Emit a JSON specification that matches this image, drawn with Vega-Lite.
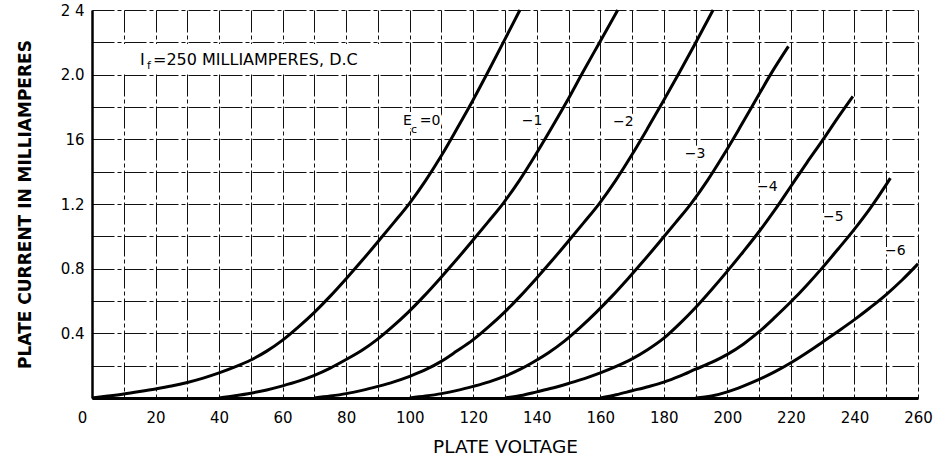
{
  "$schema": "https://vega.github.io/schema/vega-lite/v6.json",
  "width": 826,
  "height": 388,
  "autosize": {"type": "none"},
  "padding": {"left": 92, "top": 10, "right": 26, "bottom": 63},
  "background": "white",
  "config": {"view": {"stroke": null}, "font": "DejaVu Sans"},
  "datasets": {
    "box": [{"v": 1, "v2": 91.5, "i": 2.01, "i2": 2.19}],
    "curves": [
      {"ec": "0", "v": 0, "i": 0}, {"ec": "0", "v": 5, "i": 0.012}, {"ec": "0", "v": 10, "i": 0.025}, {"ec": "0", "v": 15, "i": 0.04}, {"ec": "0", "v": 20, "i": 0.056}, {"ec": "0", "v": 25, "i": 0.074}, {"ec": "0", "v": 30, "i": 0.096}, {"ec": "0", "v": 35, "i": 0.123}, {"ec": "0", "v": 40, "i": 0.155}, {"ec": "0", "v": 45, "i": 0.192}, {"ec": "0", "v": 50, "i": 0.235}, {"ec": "0", "v": 55, "i": 0.29}, {"ec": "0", "v": 60, "i": 0.358}, {"ec": "0", "v": 65, "i": 0.44}, {"ec": "0", "v": 70, "i": 0.53}, {"ec": "0", "v": 75, "i": 0.63}, {"ec": "0", "v": 80, "i": 0.738}, {"ec": "0", "v": 85, "i": 0.85}, {"ec": "0", "v": 90, "i": 0.967}, {"ec": "0", "v": 95, "i": 1.085}, {"ec": "0", "v": 100, "i": 1.206}, {"ec": "0", "v": 105, "i": 1.345}, {"ec": "0", "v": 110, "i": 1.5}, {"ec": "0", "v": 115, "i": 1.67}, {"ec": "0", "v": 120, "i": 1.845}, {"ec": "0", "v": 125, "i": 2.03}, {"ec": "0", "v": 130, "i": 2.22}, {"ec": "0", "v": 134.7, "i": 2.4},
      {"ec": "-1", "v": 40, "i": 0}, {"ec": "-1", "v": 45, "i": 0.014}, {"ec": "-1", "v": 50, "i": 0.03}, {"ec": "-1", "v": 55, "i": 0.05}, {"ec": "-1", "v": 60, "i": 0.075}, {"ec": "-1", "v": 65, "i": 0.104}, {"ec": "-1", "v": 70, "i": 0.14}, {"ec": "-1", "v": 75, "i": 0.185}, {"ec": "-1", "v": 80, "i": 0.238}, {"ec": "-1", "v": 85, "i": 0.295}, {"ec": "-1", "v": 89.5, "i": 0.358}, {"ec": "-1", "v": 94.5, "i": 0.44}, {"ec": "-1", "v": 99.5, "i": 0.53}, {"ec": "-1", "v": 104.5, "i": 0.63}, {"ec": "-1", "v": 109.5, "i": 0.738}, {"ec": "-1", "v": 114.5, "i": 0.85}, {"ec": "-1", "v": 119.5, "i": 0.967}, {"ec": "-1", "v": 124.5, "i": 1.085}, {"ec": "-1", "v": 129.5, "i": 1.206}, {"ec": "-1", "v": 134.5, "i": 1.345}, {"ec": "-1", "v": 139.5, "i": 1.5}, {"ec": "-1", "v": 144.5, "i": 1.665}, {"ec": "-1", "v": 149.5, "i": 1.835}, {"ec": "-1", "v": 154.5, "i": 2.015}, {"ec": "-1", "v": 159.5, "i": 2.19}, {"ec": "-1", "v": 165.5, "i": 2.4},
      {"ec": "-2", "v": 70, "i": 0}, {"ec": "-2", "v": 75, "i": 0.012}, {"ec": "-2", "v": 80, "i": 0.027}, {"ec": "-2", "v": 85, "i": 0.047}, {"ec": "-2", "v": 90, "i": 0.072}, {"ec": "-2", "v": 95, "i": 0.1}, {"ec": "-2", "v": 100, "i": 0.134}, {"ec": "-2", "v": 105, "i": 0.175}, {"ec": "-2", "v": 109.8, "i": 0.225}, {"ec": "-2", "v": 114.8, "i": 0.29}, {"ec": "-2", "v": 119.8, "i": 0.358}, {"ec": "-2", "v": 124.8, "i": 0.44}, {"ec": "-2", "v": 129.8, "i": 0.53}, {"ec": "-2", "v": 134.8, "i": 0.63}, {"ec": "-2", "v": 139.8, "i": 0.738}, {"ec": "-2", "v": 144.8, "i": 0.85}, {"ec": "-2", "v": 149.8, "i": 0.967}, {"ec": "-2", "v": 154.8, "i": 1.085}, {"ec": "-2", "v": 159.8, "i": 1.206}, {"ec": "-2", "v": 164.8, "i": 1.345}, {"ec": "-2", "v": 169.8, "i": 1.5}, {"ec": "-2", "v": 174.8, "i": 1.665}, {"ec": "-2", "v": 179.8, "i": 1.835}, {"ec": "-2", "v": 184.8, "i": 2.01}, {"ec": "-2", "v": 189.8, "i": 2.19}, {"ec": "-2", "v": 195.5, "i": 2.4},
      {"ec": "-3", "v": 100, "i": 0}, {"ec": "-3", "v": 105, "i": 0.012}, {"ec": "-3", "v": 110, "i": 0.027}, {"ec": "-3", "v": 115, "i": 0.047}, {"ec": "-3", "v": 120, "i": 0.072}, {"ec": "-3", "v": 125, "i": 0.1}, {"ec": "-3", "v": 130, "i": 0.135}, {"ec": "-3", "v": 135, "i": 0.18}, {"ec": "-3", "v": 138.7, "i": 0.22}, {"ec": "-3", "v": 143.7, "i": 0.28}, {"ec": "-3", "v": 148.7, "i": 0.352}, {"ec": "-3", "v": 153.7, "i": 0.437}, {"ec": "-3", "v": 158.7, "i": 0.53}, {"ec": "-3", "v": 163.7, "i": 0.63}, {"ec": "-3", "v": 168.7, "i": 0.738}, {"ec": "-3", "v": 173.7, "i": 0.85}, {"ec": "-3", "v": 178.7, "i": 0.967}, {"ec": "-3", "v": 183.7, "i": 1.085}, {"ec": "-3", "v": 188.7, "i": 1.206}, {"ec": "-3", "v": 193.7, "i": 1.345}, {"ec": "-3", "v": 198.7, "i": 1.5}, {"ec": "-3", "v": 203.7, "i": 1.665}, {"ec": "-3", "v": 208.7, "i": 1.835}, {"ec": "-3", "v": 213.7, "i": 2.005}, {"ec": "-3", "v": 219.2, "i": 2.175},
      {"ec": "-4", "v": 130, "i": 0}, {"ec": "-4", "v": 135, "i": 0.015}, {"ec": "-4", "v": 140, "i": 0.038}, {"ec": "-4", "v": 145, "i": 0.062}, {"ec": "-4", "v": 150, "i": 0.09}, {"ec": "-4", "v": 155, "i": 0.12}, {"ec": "-4", "v": 160, "i": 0.155}, {"ec": "-4", "v": 165, "i": 0.195}, {"ec": "-4", "v": 170, "i": 0.242}, {"ec": "-4", "v": 175, "i": 0.3}, {"ec": "-4", "v": 180, "i": 0.37}, {"ec": "-4", "v": 185, "i": 0.46}, {"ec": "-4", "v": 190, "i": 0.56}, {"ec": "-4", "v": 195, "i": 0.67}, {"ec": "-4", "v": 200, "i": 0.785}, {"ec": "-4", "v": 205, "i": 0.905}, {"ec": "-4", "v": 210, "i": 1.03}, {"ec": "-4", "v": 215, "i": 1.165}, {"ec": "-4", "v": 220, "i": 1.31}, {"ec": "-4", "v": 225, "i": 1.455}, {"ec": "-4", "v": 230, "i": 1.595}, {"ec": "-4", "v": 235, "i": 1.74}, {"ec": "-4", "v": 239.5, "i": 1.865},
      {"ec": "-5", "v": 160, "i": 0}, {"ec": "-5", "v": 165, "i": 0.02}, {"ec": "-5", "v": 170, "i": 0.045}, {"ec": "-5", "v": 175, "i": 0.07}, {"ec": "-5", "v": 180, "i": 0.098}, {"ec": "-5", "v": 185, "i": 0.135}, {"ec": "-5", "v": 190, "i": 0.178}, {"ec": "-5", "v": 195, "i": 0.22}, {"ec": "-5", "v": 200, "i": 0.27}, {"ec": "-5", "v": 205, "i": 0.333}, {"ec": "-5", "v": 210, "i": 0.41}, {"ec": "-5", "v": 215, "i": 0.5}, {"ec": "-5", "v": 220, "i": 0.595}, {"ec": "-5", "v": 225, "i": 0.698}, {"ec": "-5", "v": 230, "i": 0.808}, {"ec": "-5", "v": 235, "i": 0.925}, {"ec": "-5", "v": 240, "i": 1.045}, {"ec": "-5", "v": 245, "i": 1.175}, {"ec": "-5", "v": 250, "i": 1.32}, {"ec": "-5", "v": 251.3, "i": 1.36},
      {"ec": "-6", "v": 190, "i": 0}, {"ec": "-6", "v": 195, "i": 0.012}, {"ec": "-6", "v": 200, "i": 0.038}, {"ec": "-6", "v": 205, "i": 0.074}, {"ec": "-6", "v": 210, "i": 0.115}, {"ec": "-6", "v": 215, "i": 0.163}, {"ec": "-6", "v": 220, "i": 0.218}, {"ec": "-6", "v": 225, "i": 0.28}, {"ec": "-6", "v": 230, "i": 0.347}, {"ec": "-6", "v": 235, "i": 0.415}, {"ec": "-6", "v": 240, "i": 0.485}, {"ec": "-6", "v": 245, "i": 0.56}, {"ec": "-6", "v": 250, "i": 0.64}, {"ec": "-6", "v": 255, "i": 0.73}, {"ec": "-6", "v": 260, "i": 0.83}
    ],
    "labels": [
      {"t": "E", "v": 97.9, "i": 1.688},
      {"t": "=0", "v": 103.2, "i": 1.688},
      {"t": "−1", "v": 135.3, "i": 1.688},
      {"t": "−2", "v": 164.0, "i": 1.682},
      {"t": "−3", "v": 186.6, "i": 1.484},
      {"t": "−4", "v": 209.3, "i": 1.28},
      {"t": "−5", "v": 230.1, "i": 1.095},
      {"t": "−6", "v": 249.6, "i": 0.884}
    ],
    "subs": [
      {"t": "c", "v": 100.4, "i": 1.64},
      {"t": "f", "v": 17.3, "i": 2.035}
    ],
    "note": [
      {"t": "I", "v": 15.1, "i": 2.06},
      {"t": "=250 MILLIAMPERES, D.C", "v": 19.2, "i": 2.06}
    ]
  },
  "resolve": {"axis": {"x": "independent", "y": "independent"}},
  "layer": [
    {
      "data": {"name": "box"},
      "mark": {"type": "rect", "color": "white"},
      "encoding": {
        "x": {
          "field": "v", "type": "quantitative",
          "scale": {"domain": [0, 260], "nice": false, "zero": false},
          "axis": {
            "orient": "bottom", "title": null,
            "values": [0, 10, 20, 30, 40, 50, 60, 70, 80, 90, 100, 110, 120, 130, 140, 150, 160, 170, 180, 190, 200, 210, 220, 230, 240, 250, 260],
            "labels": false, "ticks": false, "domain": false,
            "grid": true, "gridColor": "#111111", "gridDash": [22, 3, 4, 3], "gridWidth": 1
          }
        },
        "x2": {"field": "v2"},
        "y": {
          "field": "i", "type": "quantitative",
          "scale": {"domain": [0, 2.4], "nice": false, "zero": false},
          "axis": {
            "orient": "left", "title": null,
            "values": [0, 0.2, 0.4, 0.6, 0.8, 1.0, 1.2, 1.4, 1.6, 1.8, 2.0, 2.2, 2.4],
            "labels": false, "ticks": false, "domain": false,
            "grid": true, "gridColor": "#111111", "gridDash": [22, 3, 4, 3], "gridWidth": 1
          }
        },
        "y2": {"field": "i2"}
      }
    },
    {
      "data": {"name": "labels"},
      "mark": {"type": "text", "align": "left", "baseline": "alphabetic", "fontSize": 14, "color": "white", "stroke": "white", "strokeWidth": 6, "font": "DejaVu Sans"},
      "encoding": {
        "x": {"field": "v", "type": "quantitative", "axis": null},
        "y": {"field": "i", "type": "quantitative", "axis": null},
        "text": {"field": "t"}
      }
    },
    {
      "data": {"name": "curves"},
      "mark": {"type": "line", "color": "black", "strokeWidth": 3, "interpolate": "monotone"},
      "encoding": {
        "x": {
          "field": "v", "type": "quantitative",
          "scale": {"domain": [0, 260], "nice": false, "zero": false},
          "axis": {
            "orient": "bottom", "title": "PLATE VOLTAGE",
            "values": [0, 20, 40, 60, 80, 100, 120, 140, 160, 180, 200, 220, 240, 260],
            "grid": false, "ticks": false, "labelPadding": 12, "labelFontSize": 15, "labelColor": "black",
            "labelFlush": false, "labelOverlap": false,
            "labelOffset": {"condition": {"test": "datum.value === 0", "value": -10}, "value": 0},
            "domainColor": "black", "domainWidth": 3,
            "titleFontSize": 18.5, "titleFontWeight": "normal", "titleColor": "black", "titlePadding": 12
          }
        },
        "y": {
          "field": "i", "type": "quantitative",
          "scale": {"domain": [0, 2.4], "nice": false, "zero": false},
          "axis": {
            "orient": "left", "title": "PLATE CURRENT IN MILLIAMPERES",
            "values": [0.4, 0.8, 1.2, 1.6, 2.0, 2.4],
            "labelExpr": "datum.value === 2.4 ? '2 4' : datum.value === 1.6 ? '16' : format(datum.value, '.1f')",
            "grid": false, "ticks": false, "labelPadding": 8, "labelFontSize": 15, "labelColor": "black",
            "labelFlush": false, "labelOverlap": false,
            "domainColor": "black", "domainWidth": 2.5,
            "titleFontSize": 17, "titleFontWeight": "bold", "titleColor": "black", "titlePadding": 26
          }
        },
        "detail": {"field": "ec", "type": "nominal"}
      }
    },
    {
      "data": {"name": "labels"},
      "mark": {"type": "text", "align": "left", "baseline": "alphabetic", "fontSize": 14, "color": "black", "font": "DejaVu Sans"},
      "encoding": {
        "x": {"field": "v", "type": "quantitative", "axis": null},
        "y": {"field": "i", "type": "quantitative", "axis": null},
        "text": {"field": "t"}
      }
    },
    {
      "data": {"name": "subs"},
      "mark": {"type": "text", "align": "left", "baseline": "alphabetic", "fontSize": 11, "color": "black", "font": "DejaVu Sans"},
      "encoding": {
        "x": {"field": "v", "type": "quantitative", "axis": null},
        "y": {"field": "i", "type": "quantitative", "axis": null},
        "text": {"field": "t"}
      }
    },
    {
      "data": {"name": "note"},
      "mark": {"type": "text", "align": "left", "baseline": "alphabetic", "fontSize": 16, "color": "black", "font": "DejaVu Sans"},
      "encoding": {
        "x": {"field": "v", "type": "quantitative", "axis": null},
        "y": {"field": "i", "type": "quantitative", "axis": null},
        "text": {"field": "t"}
      }
    }
  ]
}
